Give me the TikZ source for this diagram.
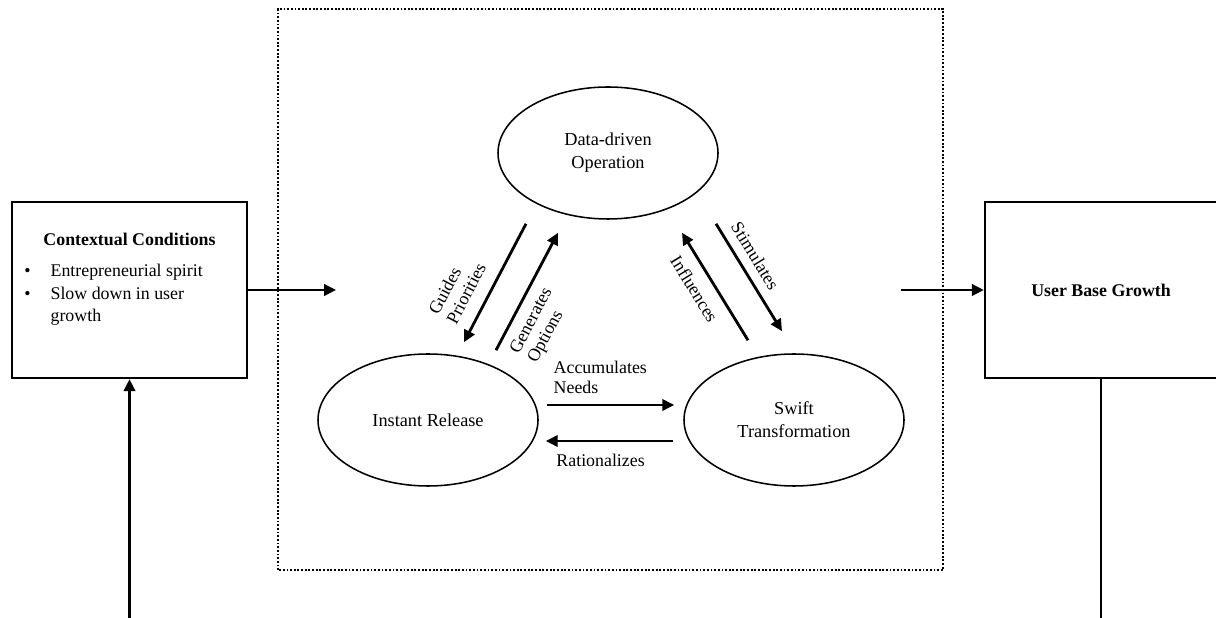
\documentclass[tikz,border=0pt]{standalone}
\usepackage{fontspec}
\setmainfont{Liberation Serif}
\usetikzlibrary{positioning,arrows.meta,shapes.geometric}
\tikzset{
box/.style={
  draw,
  line width=1.6pt,
  minimum width=5.875cm,
  minimum height=4.4cm
  },
stage/.style={
  draw,
  ellipse,
  line width=1.1pt,
  minimum width=5.5cm,
  minimum height=3.3cm,
  align=center,
  font=\fontsize{13}{16.5}\selectfont
  },
flow/.style={->,line width=2pt},
lbl/.style={
  align=left,
  font=\fontsize{12.7}{14.4}\selectfont
  }
}

\begin{document}
\begin{tikzpicture}[>={Triangle[length=8.5pt,width=8pt]}]
\useasboundingbox (0,0) rectangle (30.4,15.45);

\draw[line width=1.2pt,dash pattern=on 1.3pt off 1.3pt]
  (6.95,1.2) rectangle (23.575,15.225);

\node[box] (ctx) at (3.2375,8.2) {};
\node[box,minimum width=5.8cm,font=\fontsize{12.7}{16}\selectfont\bfseries]
  (usr) at (27.525,8.2) {User Base Growth};

\node[anchor=base,font=\fontsize{12.7}{16}\selectfont\bfseries]
  (ctxtitle) at ([yshift=-1.125cm]ctx.north) {Contextual Conditions};
\node[anchor=base west,inner sep=0pt,font=\fontsize{12.7}{16}\selectfont]
  (ctxlist) at ([xshift=0.33cm,yshift=-1.9cm]ctx.north west)
  {\begin{tabular}[t]{@{}l@{\hspace{0.5cm}}l@{}}
  \textbullet & Entrepreneurial spirit \\
  \textbullet & Slow down in user \\
  & growth
  \end{tabular}};

\node[stage] (ddo) at (15.2,11.625) {Data-driven\\Operation};
\node[stage] (ir) at (10.7,4.95) {Instant Release};
\node[stage] (sw) at (19.85,4.95) {Swift\\Transformation};

% inputs and outputs
\draw[flow]
  (ctx.east) -- ++(2.2,0);
\draw[flow]
  ([xshift=-2.075cm]usr.west) -- (usr.west);
\draw[flow]
  (ctx.south |- 0,-0.1) -- (ctx.south);
\draw[line width=2pt]
  (usr.south) -- (usr.south |- 0,-0.1);

% the cycle
\draw[flow]
  ([xshift=-2.05cm,yshift=-0.1cm]ddo.south) --
  node[lbl,sloped,above=6pt,pos=0.67] {Guides\\Priorities}
  ([xshift=0.9cm,yshift=0.275cm]ir.north);
\draw[flow]
  ([xshift=1.7cm,yshift=0.075cm]ir.north) --
  node[lbl,sloped,below=3pt,pos=0.32] {Generates\\Options}
  ([xshift=-1.25cm,yshift=-0.325cm]ddo.south);
\draw[flow]
  ([xshift=2.7cm,yshift=-0.1cm]ddo.south) --
  node[lbl,sloped,above=3pt,pos=0.38] {Stimulates}
  ([xshift=-0.3cm,yshift=0.55cm]sw.north);
\draw[flow]
  ([xshift=-1.15cm,yshift=0.325cm]sw.north) --
  node[lbl,sloped,below=4.5pt,pos=0.57] {Influences}
  ([xshift=1.85cm,yshift=-0.325cm]ddo.south);
\draw[flow]
  ([xshift=0.2cm,yshift=0.375cm]ir.east) --
  node[lbl,above=3.5pt,pos=0.42] {Accumulates\\Needs}
  ([xshift=-0.225cm,yshift=0.375cm]sw.west);
\draw[flow]
  ([xshift=-0.25cm,yshift=-0.525cm]sw.west) --
  node[lbl,below=5pt,pos=0.57] {Rationalizes}
  ([xshift=0.175cm,yshift=-0.525cm]ir.east);
\end{tikzpicture}
\end{document}
